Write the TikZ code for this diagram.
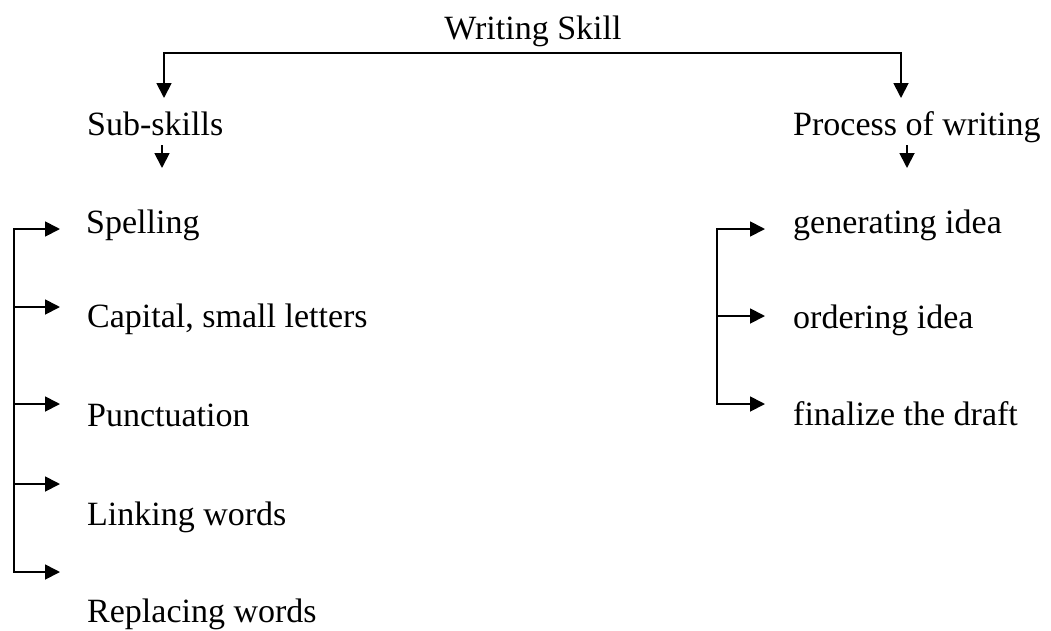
\documentclass[tikz,border=0pt]{standalone}
\usepackage{fontspec}
\setmainfont{Liberation Serif}
\usetikzlibrary{arrows.meta}
\begin{document}
\begin{tikzpicture}[x=1pt,y=-1pt,
  lbl/.style={inner sep=0pt,anchor=base west,font=\fontsize{34}{40}\selectfont},
  conn/.style={line width=1.8pt},
  arr/.style={conn,-{Triangle[length=15pt,width=15pt]}},
  arrb/.style={conn,{Triangle[length=15pt,width=15pt]}-{Triangle[length=15pt,width=15pt]}}]
\useasboundingbox (0,0) rectangle (1051,630);
% labels
\node[lbl,anchor=base] (ws) at (533,39) {Writing Skill};
\node[lbl] (sub) at (87,135) {Sub-skills};
\node[lbl] (proc) at (793,135) {Process of writing};
\node[lbl] (sp) at (86,233) {Spelling};
\node[lbl] (cap) at (87,327) {Capital, small letters};
\node[lbl] (pun) at (87,426) {Punctuation};
\node[lbl] (lnk) at (87,525) {Linking words};
\node[lbl] (rep) at (87,622) {Replacing words};
\node[lbl] (gen) at (793,233) {generating idea};
\node[lbl] (ord) at (793,328) {ordering idea};
\node[lbl] (fin) at (793,425) {finalize the draft};
% coordinates
\coordinate (a1) at (164,98);
\coordinate (a2) at (901,98);
\coordinate (tr) at (901,53);
\coordinate (s1) at (162,145);
\coordinate (s2) at (162,168);
\coordinate (p1) at (907,145);
\coordinate (p2) at (907,168);
\coordinate (L1) at (60,229);
\coordinate (L2) at (60,307);
\coordinate (L3) at (60,404);
\coordinate (L4) at (60,484);
\coordinate (L5) at (60,572);
\coordinate (LB) at (14,572);
\coordinate (R1) at (765,229);
\coordinate (R2) at (765,316);
\coordinate (R3) at (765,404);
\coordinate (RB) at (717,404);
% connectors
\draw[arrb] (a1) |- (tr) -- (a2);
\draw[arr] (s1) -- (s2);
\draw[arr] (p1) -- (p2);
\draw[arrb] (L1) -| (LB) -- (L5);
\draw[arr] (L2 -| LB) -- (L2);
\draw[arr] (L3 -| LB) -- (L3);
\draw[arr] (L4 -| LB) -- (L4);
\draw[arrb] (R1) -| (RB) -- (R3);
\draw[arr] (R2 -| RB) -- (R2);
\end{tikzpicture}
\end{document}
